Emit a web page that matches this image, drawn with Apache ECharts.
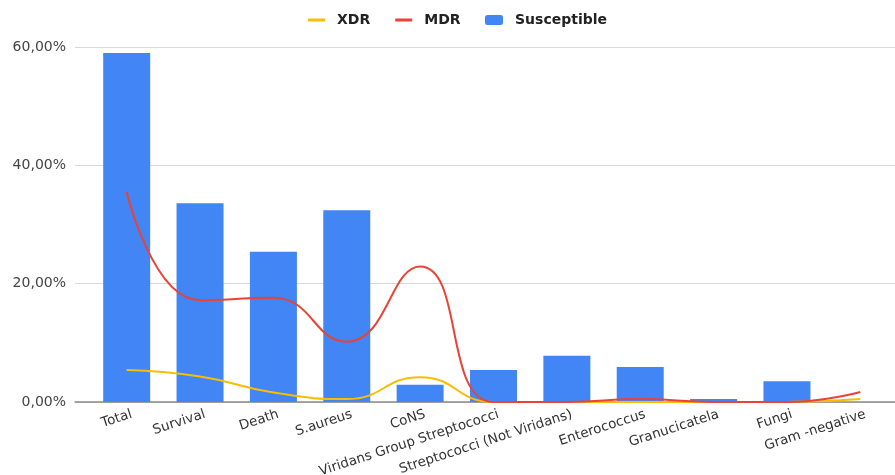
<!DOCTYPE html>
<html>
<head>
<meta charset="utf-8">
<script src="https://cdn.jsdelivr.net/npm/echarts@6/dist/echarts.min.js"></script>
<style>html,body{margin:0;padding:0;background:#fff;}#c{width:895px;height:475px;}</style>
</head>
<body>
<div id="c"></div>
<script>
var categories = ['Total','Survival','Death','S.aureus','CoNS','Viridans Group Streptococci','Streptococci (Not Viridans)','Enterococcus','Granucicatela','Fungi','Gram -negative'];
var susceptible = [59.0, 33.6, 25.4, 32.4, 2.9, 5.4, 7.8, 5.9, 0.5, 3.5, 0];
var mdr = [35.5, 17.2, 17.6, 10.2, 22.9, 0, 0, 0.5, 0, 0, 1.7];
var xdr = [5.4, 4.3, 1.6, 0.5, 4.2, 0, 0, 0, 0, 0, 0.5];
var yTicks = [0, 20, 40, 60];

var FONT = '"DejaVu Sans", "Liberation Sans", Arial, sans-serif';
var chart = echarts.init(document.getElementById('c'), null, {renderer: 'canvas'});
var option = {
  animation: false,
  backgroundColor: '#ffffff',
  legend: [
    {
      data: ['XDR', 'MDR'],
      left: 303, top: 8,
      icon: 'rect', itemWidth: 17, itemHeight: 3, itemGap: 25,
      textStyle: {fontFamily: FONT, fontSize: 14, fontWeight: 'bold', color: '#222', padding: [0, 0, 0, 7]}
    },
    {
      data: ['Susceptible'],
      left: 480, top: 8,
      icon: 'roundRect', itemWidth: 18, itemHeight: 10,
      textStyle: {fontFamily: FONT, fontSize: 14, fontWeight: 'bold', color: '#222', padding: [0, 0, 0, 7]}
    }
  ],
  grid: [
    {left: 75, right: 0, top: 47, bottom: 73, containLabel: false, outerBoundsMode: 'none'},
    {left: 90, right: -2, top: 47, bottom: 73, containLabel: false, outerBoundsMode: 'none'},
    {left: 95, right: -7, top: 47, bottom: 73, containLabel: false, outerBoundsMode: 'none'}
  ],
  xAxis: [
    {gridIndex: 0, type: 'category', data: categories, show: true,
     axisLine: {show: true, lineStyle: {color: '#8a8a8a', width: 1.5}},
     axisTick: {show: false}, axisLabel: {show: false}, splitLine: {show: false}},
    {gridIndex: 1, type: 'category', data: categories, show: false},
    {gridIndex: 2, type: 'category', data: categories,
     axisLine: {show: false}, axisTick: {show: false}, splitLine: {show: false},
     axisLabel: {show: true, rotate: 18, margin: 12, interval: 0, fontFamily: FONT, fontSize: 13.5, color: '#333'}}
  ],
  yAxis: [
    {gridIndex: 0, type: 'value', min: yTicks[0], max: yTicks[yTicks.length - 1], interval: 20,
     axisLine: {show: false}, axisTick: {show: false},
     splitLine: {show: true, lineStyle: {color: '#d9d9d9', width: 1}},
     axisLabel: {margin: 9, fontFamily: FONT, fontSize: 14, color: '#444',
       formatter: function (v) { return v.toFixed(2).replace('.', ',') + '%'; }}},
    {gridIndex: 1, type: 'value', min: yTicks[0], max: yTicks[yTicks.length - 1], interval: 20, show: false,
     splitLine: {show: false}},
    {gridIndex: 2, type: 'value', min: yTicks[0], max: yTicks[yTicks.length - 1], interval: 20, show: false,
     splitLine: {show: false}}
  ],
  series: [
    {name: 'Susceptible', type: 'bar', xAxisIndex: 1, yAxisIndex: 1, data: susceptible,
     barWidth: 47, itemStyle: {color: '#4285F4'}, z: 2},
    {name: 'XDR', type: 'line', xAxisIndex: 1, yAxisIndex: 1, data: xdr, smooth: true,
     showSymbol: false, symbol: 'none', lineStyle: {color: '#FBBC04', width: 2}, itemStyle: {color: '#FBBC04'}, z: 3},
    {name: 'MDR', type: 'line', xAxisIndex: 1, yAxisIndex: 1, data: mdr, smooth: true,
     showSymbol: false, symbol: 'none', lineStyle: {color: '#EA4335', width: 2}, itemStyle: {color: '#EA4335'}, z: 4}
  ]
};
chart.setOption(option);
</script>
</body>
</html>
